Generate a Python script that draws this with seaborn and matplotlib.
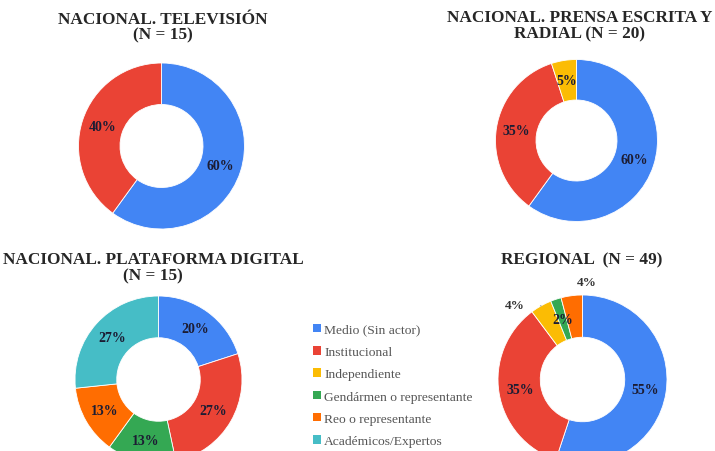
import matplotlib
matplotlib.use("Agg")
import numpy as np
import matplotlib.pyplot as plt
from matplotlib.patches import Patch
import seaborn as sns

sns.set_theme(style="white")
plt.rcParams['font.family'] = ['Liberation Serif', 'DejaVu Serif']

# Categories and palette
categories = ['Medio (Sin actor)', 'Institucional', 'Independiente',
              'Gendármen o representante', 'Reo o representante', 'Académicos/Expertos']
colors = ['#4285F4', '#EA4335', '#FBBC04', '#34A853', '#FF6D01', '#46BDC6']

# Counts per category for each chart
tv_counts = [9, 6, 0, 0, 0, 0]
prensa_counts = [12, 7, 1, 0, 0, 0]
digital_counts = [3, 4, 0, 2, 2, 4]
regional_counts = [27, 17, 2, 1, 2, 0]

titles = ['NACIONAL. TELEVISIÓN\n(N = 15)',
          'NACIONAL. PRENSA ESCRITA Y\nRADIAL (N = 20)',
          'NACIONAL. PLATAFORMA DIGITAL\n(N = 15)',
          'REGIONAL  (N = 49)']

W, H = 715, 452
fig = plt.figure(figsize=(W / 100, H / 100), dpi=100)


def px_axes(cx, cy, r):
    return fig.add_axes([(cx - r) / W, (H - cy - r) / H, 2 * r / W, 2 * r / H])


def donut(ax, counts, outside=None):
    outside = outside or {}
    idx = [i for i, c in enumerate(counts) if c > 0]
    vals = [counts[i] for i in idx]
    cols = [colors[i] for i in idx]
    wedges, _ = ax.pie(vals, colors=cols, startangle=90, counterclock=False,
                       wedgeprops=dict(width=0.5, edgecolor='white', linewidth=0.6))
    total = sum(vals)
    for w, i, v in zip(wedges, idx, vals):
        mid = np.deg2rad((w.theta1 + w.theta2) / 2)
        pct = f"{round(100 * v / total)}%"
        if i in outside:
            dist, shift, line = outside[i]
            a = mid + np.deg2rad(shift)
            xt, yt = dist * np.cos(a), dist * np.sin(a)
            if line:
                ax.annotate(pct, xy=(1.0 * np.cos(mid), 1.0 * np.sin(mid)), xytext=(xt, yt),
                            ha='center', va='center', fontsize=9.5, fontweight='bold',
                            color='#333333',
                            arrowprops=dict(arrowstyle='-', color='#999999', lw=0.8,
                                            shrinkA=9, shrinkB=1))
            else:
                ax.text(xt, yt, pct, ha='center', va='center', fontsize=9.5,
                        fontweight='bold', color='#333333')
        else:
            ax.text(0.75 * np.cos(mid), 0.75 * np.sin(mid), pct, ha='center', va='center',
                    fontsize=10, fontweight='bold', color='#1c1c33')
    ax.set_xlim(-1, 1)
    ax.set_ylim(-1, 1)
    ax.set_aspect('equal')
    ax.axis('off')


donut(px_axes(161.5, 147, 83), tv_counts)
donut(px_axes(576.5, 141.5, 81), prensa_counts)
donut(px_axes(158.5, 380.5, 83.5), digital_counts)
donut(px_axes(582.5, 380.5, 84.5), regional_counts,
      outside={2: (1.19, 13, True), 4: (1.16, -10, False)})

title_kw = dict(ha='center', va='center', fontsize=12.4, fontweight='bold',
                color='#262626', linespacing=1.0)
fig.text(163 / W, 1 - 27.5 / H, titles[0], **title_kw)
fig.text(580 / W, 1 - 26 / H, titles[1], **title_kw)
fig.text(153 / W, 1 - 268.5 / H, titles[2], **title_kw)
fig.text(582 / W, 1 - 260 / H, titles[3], **title_kw)

handles = [Patch(facecolor=c, edgecolor='none') for c in colors]
fig.legend(handles, categories, loc='upper left', bbox_to_anchor=(306 / W, 1 - 318 / H),
           frameon=False, fontsize=9.7, handlelength=0.6, handleheight=0.6,
           handletextpad=0.25, labelspacing=0.76, borderpad=0, labelcolor='#555555')

fig.savefig('out.png', dpi=100)
